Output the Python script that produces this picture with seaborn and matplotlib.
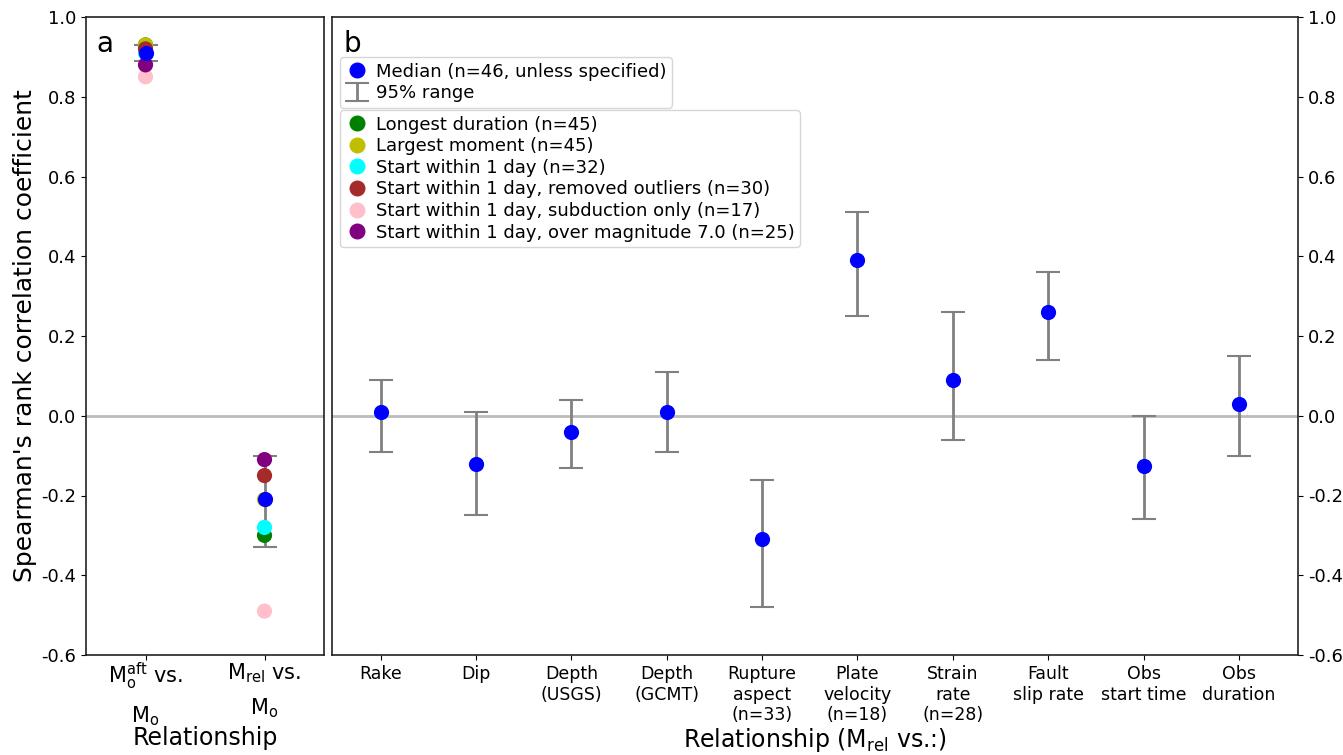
import pandas as pd
import seaborn as sns
import matplotlib.pyplot as plt
from matplotlib.lines import Line2D

# Panel a: two relationships
a_labels = ["M$_\\mathrm{o}^\\mathrm{aft}$ vs.\nM$_\\mathrm{o}$", "M$_\\mathrm{rel}$ vs.\nM$_\\mathrm{o}$"]
a_median = [0.91, -0.21]
a_low = [0.89, -0.33]
a_high = [0.93, -0.10]

# subsets for panel a
subset_names = ["Longest duration (n=45)", "Largest moment (n=45)", "Start within 1 day (n=32)",
                "Start within 1 day, removed outliers (n=30)", "Start within 1 day, subduction only (n=17)",
                "Start within 1 day, over magnitude 7.0 (n=25)"]
subset_colors = ["green", "y", "cyan", "brown", "pink", "purple"]
subset_aft = [0.93, 0.93, 0.91, 0.92, 0.85, 0.88]
subset_rel = [-0.30, -0.21, -0.28, -0.15, -0.49, -0.11]

# Panel b: M_rel vs. various
b_labels = ["Rake", "Dip", "Depth\n(USGS)", "Depth\n(GCMT)", "Rupture\naspect\n(n=33)",
            "Plate\nvelocity\n(n=18)", "Strain\nrate\n(n=28)", "Fault\nslip rate",
            "Obs\nstart time", "Obs\nduration"]
b_median = [0.01, -0.12, -0.04, 0.01, -0.31, 0.39, 0.09, 0.26, -0.125, 0.03]
b_low = [-0.09, -0.25, -0.13, -0.09, -0.48, 0.25, -0.06, 0.14, -0.26, -0.10]
b_high = [0.09, 0.01, 0.04, 0.11, -0.16, 0.51, 0.26, 0.36, 0.00, 0.15]

sns.set_style("ticks")
plt.rcParams['font.family'] = ['DejaVu Sans']
plt.rcParams['mathtext.default'] = 'regular'
plt.rcParams['axes.unicode_minus'] = False
for k in ['text.color', 'axes.labelcolor', 'xtick.color', 'ytick.color']:
    plt.rcParams[k] = 'black'

fig = plt.figure(figsize=(13.43, 7.55), dpi=100)
W, H = 1343, 755
ax1 = fig.add_axes([86 / W, 1 - 655 / H, (324 - 86) / W, (655 - 17) / H])
ax2 = fig.add_axes([332 / W, 1 - 655 / H, (1298 - 332) / W, (655 - 17) / H])

ebar = dict(fmt='none', ecolor='gray', elinewidth=2, capsize=8.6, capthick=1.5, zorder=2)
yt = [-0.6, -0.4, -0.2, 0.0, 0.2, 0.4, 0.6, 0.8, 1.0]

for ax in (ax1, ax2):
    ax.axhline(0, color='#bbbbbb', lw=2, zorder=1)

# ---- panel a
xa = list(range(len(a_labels)))
ax1.errorbar(xa, a_median,
             yerr=[[m - l for m, l in zip(a_median, a_low)], [h - m for m, h in zip(a_median, a_high)]],
             **ebar)

sub = pd.DataFrame({
    "x": [0] * len(subset_names) + [1] * len(subset_names),
    "y": subset_aft + subset_rel,
    "subset": subset_names * 2,
})
sns.scatterplot(data=sub, x="x", y="y", hue="subset", hue_order=subset_names,
                palette=dict(zip(subset_names, subset_colors)), s=120, linewidth=0,
                legend=False, ax=ax1, zorder=3)
sns.scatterplot(x=xa, y=a_median, color="blue", s=120, linewidth=0, ax=ax1, zorder=4)

ax1.set_xlim(-0.5, 1.5)
ax1.set_ylim(-0.6, 1.0)
ax1.set_xticks(xa)
ax1.set_xticklabels(a_labels, fontsize=15, linespacing=1.65)
ax1.tick_params(axis='x', pad=1)
ax1.set_yticks(yt)
ax1.set_yticklabels(["%.1f" % v for v in yt], fontsize=13)
ax1.set_xlabel("Relationship", fontsize=17, labelpad=-1)
ax1.set_ylabel("Spearman's rank correlation coefficient", fontsize=18, labelpad=3)
ax1.text(0.045, 0.98, "a", transform=ax1.transAxes, fontsize=20, va='top')

# ---- panel b
xb = list(range(len(b_labels)))
eb = ax2.errorbar(xb, b_median,
                  yerr=[[m - l for m, l in zip(b_median, b_low)], [h - m for m, h in zip(b_median, b_high)]],
                  **ebar)
sns.scatterplot(x=xb, y=b_median, color="blue", s=120, linewidth=0, ax=ax2, zorder=4)

ax2.set_xlim(-0.51, 9.62)
ax2.set_ylim(-0.6, 1.0)
ax2.set_xticks(xb)
ax2.set_xticklabels(b_labels, fontsize=12.5)
ax2.yaxis.tick_right()
ax2.set_yticks(yt)
ax2.set_yticklabels(["%.1f" % v for v in yt], fontsize=13)
ax2.set_xlabel("Relationship (M$_{rel}$ vs.:)", fontsize=17, labelpad=1)
ax2.text(0.012, 0.98, "b", transform=ax2.transAxes, fontsize=20, va='top')

for ax in (ax1, ax2):
    for s in ax.spines.values():
        s.set_color('#222222')
        s.set_linewidth(1.2)

legkw = dict(loc='upper left', fontsize=13, handlelength=1.3, handletextpad=0.4,
             labelspacing=0.2, borderpad=0.3, borderaxespad=0, frameon=True)
med_handle = Line2D([], [], marker='o', color='blue', linestyle='none', markersize=10.5)
leg1 = ax2.legend([med_handle, eb], ["Median (n=46, unless specified)", "95% range"],
                  bbox_to_anchor=(0.008, 0.937), **legkw)
ax2.add_artist(leg1)

sub_handles = [Line2D([], [], marker='o', color=c, linestyle='none', markersize=10.5) for c in subset_colors]
ax2.legend(sub_handles, subset_names, bbox_to_anchor=(0.008, 0.854), **legkw)

fig.savefig("out.png", dpi=100)
